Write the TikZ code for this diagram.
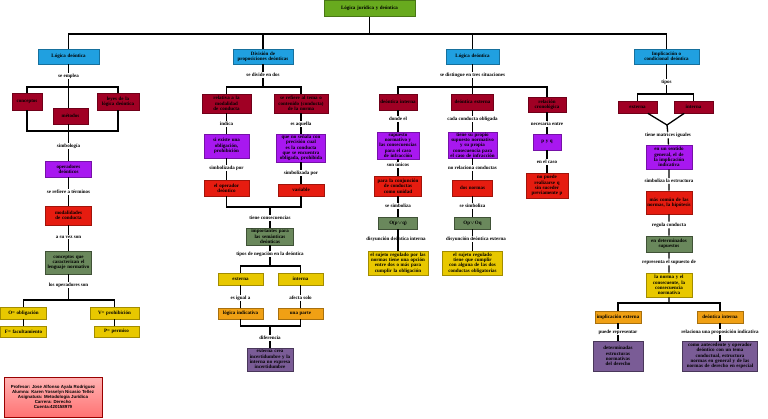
\documentclass[tikz,border=0pt]{standalone}
\usepackage{fontspec}
\setmainfont{Liberation Serif}
\newfontfamily\credfont{Liberation Sans}
\definecolor{gtopc}{RGB}{104,170,30}
\definecolor{bluc}{RGB}{32,160,224}
\definecolor{dredc}{RGB}{160,0,36}
\definecolor{vioc}{RGB}{168,24,240}
\definecolor{redc}{RGB}{230,28,16}
\definecolor{sagec}{RGB}{106,136,92}
\definecolor{yelc}{RGB}{232,200,0}
\definecolor{orac}{RGB}{240,160,20}
\definecolor{plumc}{RGB}{122,92,150}
\hyphenpenalty=10000
\exhyphenpenalty=10000

\begin{document}
\begin{tikzpicture}[
  x=1pt, y=-1pt,
  box/.style={draw, line width=0.6pt, align=center, inner sep=0.8pt, font=\fontsize{5}{5.3}\selectfont\bfseries},
  sz/.style 2 args={minimum width=#1pt, text width=#1pt-2.5pt, minimum height=#2pt},
  gtop/.style={fill=gtopc, draw=gtopc!70!black},
  blu/.style={fill=bluc, draw=bluc!70!black},
  dred/.style={fill=dredc, draw=dredc!70!black},
  vio/.style={fill=vioc, draw=vioc!70!black},
  rred/.style={fill=redc, draw=redc!70!black},
  sage/.style={fill=sagec, draw=sagec!60!black},
  yel/.style={fill=yelc, draw=yelc!70!black},
  ora/.style={fill=orac, draw=orac!70!black},
  plum/.style={fill=plumc, draw=plumc!60!black},
  lbl/.style={inner sep=0.8pt, font=\fontsize{5}{5.3}\selectfont\bfseries},
  ln/.style={line width=1.3pt}
]
\useasboundingbox (0,0) rectangle (768,418);

\node[box, gtop, sz={91}{16}] (top) at (369.5,8.5) {Lógica jurídica y deóntica};
\coordinate (t) at (369.5,34);

\node[box, blu, sz={61}{15}] (a) at (68.5,56.5) {Lógica deóntica};
\node[lbl] (a0) at (68.5,76) {se emplea};
\coordinate (ja) at (68.5,87);
\node[box, dred, sz={30}{17}] (a1) at (27,101.5) {conceptos};
\node[box, dred, sz={35}{16}] (a2) at (70.5,116) {métodos};
\node[box, dred, sz={42}{17}] (a3) at (118,101.5) {leyes de la lógica deóntica};
\coordinate (jb) at (68.5,131);
\node[lbl] (a4) at (68.5,146) {simbología};
\node[box, vio, sz={46}{16}] (a5) at (68.5,169) {operadores deónticos};
\node[lbl] (a6) at (68.5,192) {se refiere a términos};
\node[box, rred, sz={46}{19}] (a7) at (68.5,215.5) {modalidades de conducta};
\node[lbl] (a8) at (68.5,237) {a su vez son};
\node[box, sage, sz={46}{23}] (a9) at (68.5,262.5) {conceptos que caracterizan el lenguaje normativo};
\node[lbl] (a10) at (68.5,285) {los operadores son};
\coordinate (jc) at (68.5,300);
\node[box, yel, sz={46}{12}] (o) at (23.5,313) {O= obligación};
\node[box, yel, sz={49}{12}] (v) at (114.5,313) {V= prohibición};
\node[box, yel, sz={46}{11}] (f) at (23.5,331.5) {F= facultamiento};
\node[box, yel, sz={45}{11}] (p) at (116.5,331.5) {P= permiso};

\node[draw=red!60!black, line width=0.6pt, top color=red!30, bottom color=red!55, align=center, minimum width=98pt, minimum height=40pt, font=\credfont\fontsize{4.4}{5}\selectfont\bfseries] (cred) at (53,397)
  {Profesor: Jose Alfonso Ayala Rodriguez\\Alumna: Karen Yosselyn Nicasio Tellez\\Asignatura: Metodologia Jurídica\\Carrera: Derecho\\Cuenta:420158979};

\node[box, blu, sz={60}{15}] (b) at (263,56.5) {División de proposiciones deónticas};
\node[lbl] (b0) at (263,75) {se divide en dos};
\coordinate (jd) at (263,87);
\node[box, dred, sz={49}{19}] (b1) at (226.5,103.5) {relativa a la modalidad de conducta};
\node[box, dred, sz={54}{19}] (b2) at (301,103.5) {se refiere al tema o contenido (conducta) de la norma};
\node[lbl] (b1l) at (226.5,124) {indica};
\node[lbl] (b2l) at (301,124) {es aquella};
\node[box, vio, sz={45}{24}] (b3) at (226.5,146) {si existe una obligación, prohibición};
\node[box, vio, sz={49}{28}] (b4) at (301,148) {que no señala con precisión cual es la conducta que se encuentra obligada, prohibida};
\node[lbl] (b3l) at (226.5,168) {simbolizada por};
\node[lbl] (b4l) at (301,173) {simbolizada por};
\node[box, rred, sz={45}{16}] (b5) at (226.5,188) {el operador deóntico};
\node[box, rred, sz={46}{12}] (b6) at (301,190) {variable};
\coordinate (je) at (270,207);
\node[lbl] (b7l) at (270,218) {tiene consecuencias};
\node[box, sage, sz={47}{17}] (b7) at (270,236.5) {importantes para las semánticas deónticas};
\node[lbl] (b8l) at (270,254) {tipos de negación en la deóntica};
\coordinate (jf) at (270,266);
\node[box, yel, sz={45}{12}] (b8) at (240.5,279) {externa};
\node[box, yel, sz={45}{12}] (b9) at (300.5,279) {interna};
\node[lbl] (b8a) at (240.5,298) {es igual a};
\node[lbl] (b9a) at (300.5,298) {afecta solo};
\node[box, ora, sz={45}{11}] (b10) at (240.5,313.5) {lógica indicativa};
\node[box, ora, sz={45}{11}] (b11) at (300.5,313.5) {una parte};
\coordinate (jg) at (270,326);
\node[lbl] (b12l) at (270,338) {diferencia};
\node[box, plum, sz={46}{23}] (b12) at (270,359.5) {externa crea incertidumbre y la interna no expresa incertidumbre};

\node[box, blu, sz={53}{15}] (c) at (472.5,56.5) {Lógica deóntica};
\node[lbl] (c0) at (472.5,75) {se distingue en tres situaciones};
\coordinate (jh) at (472.5,87);
\node[box, dred, sz={38}{16}] (c1) at (398,102) {deóntica interna};
\node[box, dred, sz={42}{16}] (c2) at (472.5,102) {deóntica externa};
\node[box, dred, sz={38}{15}] (c3) at (547,104.5) {relación cronológica};
\node[lbl] (c1l) at (398,119) {donde el};
\node[lbl] (c2l) at (472.5,119) {cada conducta obligada};
\node[lbl] (c3l) at (547,124) {necesaria entre};
\node[box, vio, sz={42}{27}] (c4) at (398,145.5) {supuesto normativo y las consecuencias para el caso de infracción};
\node[box, vio, sz={49}{26}] (c5) at (472.5,145) {tiene su propio supuesto normativo y su propia consecuencia para el caso de infracción};
\node[box, vio, sz={28}{16}] (c6) at (547,142) {p y q};
\node[lbl] (c4l) at (398,165) {son únicos};
\node[lbl] (c5l) at (472.5,168) {no relaciona conductas};
\node[lbl] (c6l) at (547,162) {en el caso};
\node[box, rred, sz={47}{20}] (c7) at (398,186) {para la conjunción de conductas como unidad};
\node[box, rred, sz={40}{16}] (c8) at (472.5,188) {dos normas};
\node[box, rred, sz={42}{25}] (c9) at (547,185.5) {no puede realizarse q sin suceder previamente p};
\node[lbl] (c7l) at (398,206) {se simboliza};
\node[lbl] (c8l) at (472.5,206) {se simboliza};
\node[box, sage, sz={39}{12}] (c10) at (398,223) {O(p$\vee$q)};
\node[box, sage, sz={36}{12}] (c11) at (472.5,223) {Op$\vee$Oq};
\node[lbl] (c10l) at (396,239) {disyunción deóntica interna};
\node[lbl] (c11l) at (476,239) {disyunción deóntica externa};
\node[box, yel, sz={60}{24}] (c12) at (398,263) {el sujeto regulado por las normas tiene una opción entre dos o más para cumplir la obligación};
\node[box, yel, sz={60}{24}] (c13) at (472.5,263) {el sujeto regulado tiene que cumplir con alguna de las dos conductas obligatorias};

\node[box, blu, sz={65}{15}] (d) at (666.5,56.5) {Implicación o condicional deóntica};
\node[lbl] (d0) at (666.5,82) {tipos};
\coordinate (ji) at (666.5,94);
\node[box, dred, sz={39}{12}] (d1) at (637.5,107) {externa};
\node[box, dred, sz={39}{12}] (d2) at (693.5,107) {interna};
\coordinate (jv) at (667,125);
\node[lbl] (d3l) at (668,135) {tiene matrices iguales};
\node[box, vio, sz={46}{24}] (d3) at (669,157) {en un sentido general, el de la implicación indicativa};
\node[lbl] (d4l) at (669,181) {simboliza la estructura};
\node[box, rred, sz={46}{23}] (d4) at (669,202.5) {más común de las normas, la hipótesis};
\node[lbl] (d5l) at (669,225) {regula conducta};
\node[box, sage, sz={46}{16}] (d5) at (669,244) {en determinados supuestos};
\node[lbl] (d6l) at (669,262) {representa el supuesto de};
\node[box, yel, sz={46}{24}] (d6) at (669,285) {la norma y el consecuente, la consecuencia normativa};
\coordinate (jj) at (669,303);
\node[box, ora, sz={46}{12}] (d7) at (618,317) {implicación externa};
\node[box, ora, sz={46}{12}] (d8) at (720,317) {deóntica interna};
\node[lbl] (d7l) at (618,332) {puede representar};
\node[lbl] (d8l) at (720,332) {relaciona una proposición indicativa};
\node[box, plum, sz={50}{30}] (d9) at (618,356) {determinadas estructuras normativas del derecho};
\node[box, plum, sz={75}{30}] (d10) at (720,356) {como antecedente y operador deóntico con un tema conductual, estructura normas en general y de las normas de derecho en especial};

\draw[ln] (top) -- (t);
\draw[ln] (t) -| (a);
\draw[ln] (t) -| (b);
\draw[ln] (t) -| (c);
\draw[ln] (t) -| (d);

\draw[ln] (a) -- (a0) -- (ja);
\draw[ln] (a1) |- (ja) -| (a3);
\draw[ln] (ja) -- (ja |- a2.north);
\draw[ln] (a1) |- (jb) -| (a3);
\draw[ln] (a2.south -| jb) -- (jb) -- (a4) -- (a5) -- (a6) -- (a7) -- (a8) -- (a9) -- (a10) -- (jc);
\draw[ln] (o) |- (jc) -| (v);
\draw[ln] (o) -- (f);
\draw[ln] (v) -- (v |- p.north);

\draw[ln] (b) -- (b0) -- (jd);
\draw[ln] (b1) |- (jd) -| (b2);
\draw[ln] (b1) -- (b1l) -- (b3) -- (b3l) -- (b5);
\draw[ln] (b2) -- (b2l) -- (b4) -- (b4l) -- (b6);
\draw[ln] (b5) |- (je) -| (b6);
\draw[ln] (je) -- (b7l) -- (b7) -- (b8l) -- (jf);
\draw[ln] (b8) |- (jf) -| (b9);
\draw[ln] (b8) -- (b8a) -- (b10);
\draw[ln] (b9) -- (b9a) -- (b11);
\draw[ln] (b10) |- (jg) -| (b11);
\draw[ln] (jg) -- (b12l) -- (b12);

\draw[ln] (c) -- (c0) -- (jh);
\draw[ln] (c1) |- (jh) -| (c3);
\draw[ln] (jh) -- (c2);
\draw[ln] (c1) -- (c1l) -- (c4) -- (c4l) -- (c7) -- (c7l) -- (c10) -- (c10l.north -| c10) -- (c12);
\draw[ln] (c2) -- (c2l) -- (c5) -- (c5l) -- (c8) -- (c8l) -- (c11) -- (c11l.north -| c11);
\draw[ln] (c11l.south -| c11) -- (c13);
\draw[ln] (c10l.south -| c10) -- (c12);
\draw[ln] (c3) -- (c3l) -- (c6) -- (c6l) -- (c9);

\draw[ln] (d) -- (d0) -- (ji);
\draw[ln] (d1) |- (ji) -| (d2);
\draw[ln] (d1) -- (jv) -- (d2);
\draw[ln] (jv) -- (d3l) -- (d3) -- (d4l) -- (d4) -- (d5l) -- (d5) -- (d6l) -- (d6) -- (jj);
\draw[ln] (d7) |- (jj) -| (d8);
\draw[ln] (d7) -- (d7l) -- (d9);
\draw[ln] (d8) -- (d8l) -- (d10);
\end{tikzpicture}
\end{document}
